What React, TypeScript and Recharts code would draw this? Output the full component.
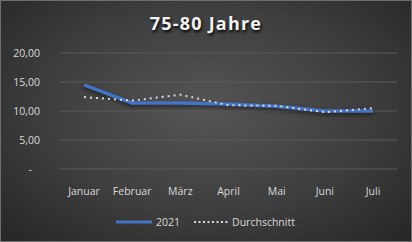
import React from "react";
import { LineChart, Line, XAxis, YAxis, CartesianGrid, Legend } from "recharts";

const months = ["Januar", "Februar", "März", "April", "Mai", "Juni", "Juli"];
const series2021 = [14.5, 11.4, 11.4, 11.2, 10.8, 10.0, 10.0];
const durchschnitt = [12.4, 11.8, 12.8, 11.0, 10.9, 9.8, 10.5];
const yTicks = [0, 5, 10, 15, 20];

const data = months.map((m, i) => ({ month: m, y2021: series2021[i], avg: durchschnitt[i] }));

const fmt = (v: number) => (v === 0 ? "-" : v.toFixed(2).replace(".", ","));

const YTick = (props: any) => {
  const { x, y, payload } = props;
  const v = payload.value;
  return (
    <text x={v === 0 ? x - 8 : x} y={y} dy={4} textAnchor="end" fill="#d9d9d9" fontSize={10.5} fontFamily="'Open Sans', sans-serif">
      {fmt(v)}
    </text>
  );
};

const LegendContent = () => (
  <div style={{ display: "flex", justifyContent: "center", alignItems: "center", fontFamily: "'Open Sans', sans-serif", fontSize: 10.5, color: "#d9d9d9", paddingTop: 16, paddingLeft: 14 }}>
    <svg width={36} height={6} style={{ marginRight: 4 }}>
      <line x1={0} y1={3} x2={36} y2={3} stroke="#4472C4" strokeWidth={3} />
    </svg>
    <span style={{ marginRight: 14 }}>2021</span>
    <svg width={34} height={6} style={{ marginRight: 4 }}>
      <line x1={0} y1={3} x2={34} y2={3} stroke="#d9d9d9" strokeWidth={2} strokeDasharray="2 2.5" />
    </svg>
    <span>Durchschnitt</span>
  </div>
);

export default function App() {
  return (
    <div
      style={{
        position: "absolute",
        left: 0,
        top: 0,
        width: 412,
        height: 242,
        boxSizing: "border-box",
        border: "1px solid #6e6e6e",
        background: "radial-gradient(ellipse at 50% 45%, #555555 0%, #3e3e3e 55%, #262626 100%)",
        overflow: "hidden",
      }}
    >
      <div
        style={{
          position: "absolute",
          top: 10,
          left: 0,
          width: 410,
          textAlign: "center",
          fontFamily: "'Open Sans', sans-serif",
          fontWeight: 700,
          fontSize: 18,
          letterSpacing: 1.2,
          color: "#f2f2f2",
          textShadow: "1px 2px 3px #000",
        }}
      >
        75-80 Jahre
      </div>
      <div style={{ position: "absolute", left: -1, top: -1 }}>
        <LineChart width={412} height={242} data={data} margin={{ top: 53, right: 15, bottom: 0, left: 0 }}>
          <CartesianGrid vertical={false} stroke="#5a5a5a" strokeWidth={1} />
          <XAxis
            dataKey="month"
            axisLine={false}
            tickLine={false}
            tickMargin={13}
            height={30}
            padding={{ left: 24, right: 24 }}
            tick={{ fill: "#d9d9d9", fontSize: 10.5, fontFamily: "'Open Sans', sans-serif" }}
          />
          <YAxis
            domain={[0, 20]}
            ticks={yTicks}
            axisLine={false}
            tickLine={false}
            width={60}
            tickMargin={14}
            tick={<YTick />}
          />
          <Legend verticalAlign="bottom" height={43} content={<LegendContent />} />
          <Line
            dataKey="y2021"
            stroke="#4472C4"
            strokeWidth={3.5}
            dot={false}
            isAnimationActive={false}
            style={{ filter: "drop-shadow(0px 2px 2px rgba(0,0,0,0.6))" }}
          />
          <Line
            dataKey="avg"
            stroke="#d9d9d9"
            strokeWidth={2}
            strokeDasharray="2 4"
            dot={false}
            isAnimationActive={false}
          />
        </LineChart>
      </div>
    </div>
  );
}
